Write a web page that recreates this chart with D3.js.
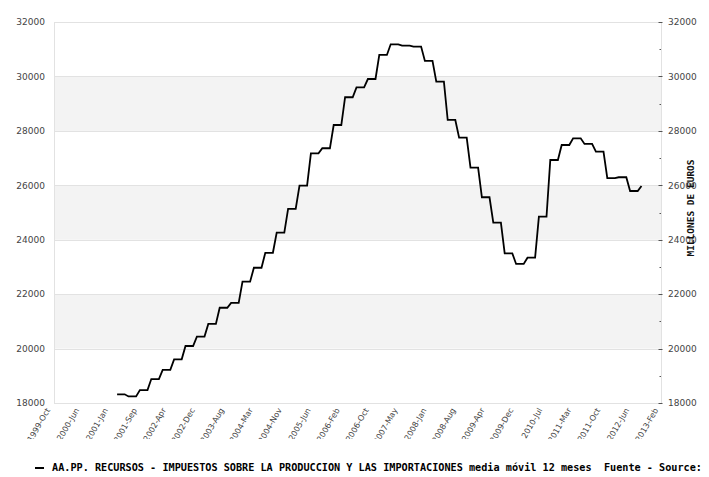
<!DOCTYPE html>
<html>
<head>
<meta charset="utf-8">
<script src="https://cdn.jsdelivr.net/npm/d3@7/dist/d3.min.js"></script>
<style>
  html, body { margin: 0; padding: 0; background: #fff; }
  svg { display: block; }
</style>
</head>
<body>
<svg id="chart" width="709" height="477"></svg>
<script>
// ---------------- DATA ----------------
const axisStart = "1999-10";   // first x-axis month
const axisEnd = "2013-02";     // last x-axis month
const tickLabels = ["1999-Oct","2000-Jun","2001-Jan","2001-Sep","2002-Apr","2002-Dec","2003-Aug",
  "2004-Mar","2004-Nov","2005-Jun","2006-Feb","2006-Oct","2007-May","2008-Jan","2008-Aug",
  "2009-Apr","2009-Dec","2010-Jul","2011-Mar","2011-Oct","2012-Jun","2013-Feb"];
const yTicks = [18000,20000,22000,24000,26000,28000,30000,32000];
const seriesStart = "2001-03"; // month of the first value
// monthly values (millones de euros), 12-month moving average
const values = [
  18320,18320,18320, 18240,18240,18240, 18475,18475,18475, 18880,18880,18880,
  19220,19220,19220, 19605,19605,19605, 20095,20095,20095, 20440,20440,20440,
  20905,20905,20905, 21500,21500,21500, 21680,21680,21680, 22460,22460,22460,
  22970,22970,22970, 23520,23520,23520, 24260,24260,24260, 25130,25130,25130,
  25985,25985,25985, 27175,27175,27175, 27360,27360,27360, 28215,28215,28215,
  29235,29235,29235, 29600,29600,29600, 29905,29905,29905, 30790,30790,30790,
  31180,31180,31180, 31130,31130,31130, 31095,31095,31095, 30570,30570,30570,
  29810,29810,29810, 28400,28400,28400, 27750,27750,27750, 26650,26650,26650,
  25560,25560,25560, 24625,24625,24625, 23500,23500,23500, 23110,23110,23110,
  23340,23340,23340, 24845,24845,24845, 26930,26930,26930, 27480,27480,27480,
  27725,27725,27725, 27520,27520,27520, 27235,27235,27235, 26260,26260,26260,
  26295,26295,26295, 25790,25790,25790, 25975
];
const seriesName = "AA.PP. RECURSOS - IMPUESTOS SOBRE LA PRODUCCION Y LAS IMPORTACIONES media móvil 12 meses\u00a0 Fuente - Source:";
const yTitle = "MILLONES DE EUROS";

// ---------------- CHART ----------------
const svg = d3.select("#chart");
const parse = d3.timeParse("%Y-%m");
const t0 = parse(axisStart), t1 = parse(axisEnd);
const nMonths = d3.timeMonth.count(t0, t1);
const sIdx = d3.timeMonth.count(t0, parse(seriesStart));

const frame = {left: 54.5, right: 661.5, top: 22, bottom: 403};
const x = d3.scaleLinear().domain([0, nMonths]).range([52.5, 660.5]);
const y = d3.scaleLinear().domain([18000, 32000]).range([frame.bottom, frame.top]);

// clip for x labels
svg.append("defs").append("clipPath").attr("id", "xclip")
  .append("rect").attr("x", 0).attr("y", 400).attr("width", 709).attr("height", 39);

// bands
const bandPairs = [[20000,22000],[24000,26000],[28000,30000]];
svg.append("g").selectAll("rect").data(bandPairs).join("rect")
  .attr("x", frame.left).attr("width", frame.right - frame.left)
  .attr("y", d => y(d[1])).attr("height", d => y(d[0]) - y(d[1]))
  .attr("fill", "#f3f3f3");

// gridlines
svg.append("g").selectAll("line").data(yTicks).join("line")
  .attr("x1", frame.left).attr("x2", frame.right)
  .attr("y1", d => Math.round(y(d)) + 0.5).attr("y2", d => Math.round(y(d)) + 0.5)
  .attr("stroke", "#e2e2e2").attr("stroke-width", 1);

// frame sides
svg.append("line").attr("x1", frame.left).attr("x2", frame.left)
  .attr("y1", frame.top).attr("y2", frame.bottom + 1).attr("stroke", "#e2e2e2");
svg.append("line").attr("x1", frame.right).attr("x2", frame.right)
  .attr("y1", frame.top).attr("y2", frame.bottom + 1).attr("stroke", "#e2e2e2");

// left axis labels
svg.append("g").selectAll("text").data(yTicks).join("text")
  .attr("x", 45).attr("y", d => y(d)).attr("dy", "0.36em")
  .attr("text-anchor", "end")
  .attr("font-family", "DejaVu Sans").attr("font-size", 9).attr("fill", "#444")
  .text(d => d);

// right axis: ticks and labels
const minorTicks = d3.range(19000, 32000, 2000);
svg.append("g").selectAll("line").data(yTicks).join("line")
  .attr("x1", frame.right - 3).attr("x2", frame.right + 1)
  .attr("y1", d => Math.round(y(d)) + 0.5).attr("y2", d => Math.round(y(d)) + 0.5)
  .attr("stroke", "#555");
svg.append("g").selectAll("line").data(minorTicks).join("line")
  .attr("x1", frame.right - 2).attr("x2", frame.right - 0.5)
  .attr("y1", d => Math.round(y(d)) + 0.5).attr("y2", d => Math.round(y(d)) + 0.5)
  .attr("stroke", "#555");
svg.append("g").selectAll("text").data(yTicks).join("text")
  .attr("x", 668).attr("y", d => y(d)).attr("dy", "0.36em")
  .attr("font-family", "DejaVu Sans").attr("font-size", 9).attr("fill", "#444")
  .text(d => d);

// right axis title
svg.append("text")
  .attr("transform", "translate(694,208) rotate(-90)")
  .attr("text-anchor", "middle")
  .attr("font-family", "DejaVu Sans Mono").attr("font-weight", "bold")
  .attr("font-size", 9.5).attr("fill", "#111")
  .attr("textLength", 97).attr("lengthAdjust", "spacingAndGlyphs")
  .text(yTitle);

// x labels (evenly spaced), clipped at the bottom
const nT = tickLabels.length - 1;
svg.append("g").attr("clip-path", "url(#xclip)")
  .selectAll("text").data(tickLabels).join("text")
  .attr("transform", (d, i) => `translate(${x(i * nMonths / nT) - 2},410) rotate(-60)`)
  .attr("text-anchor", "end")
  .attr("font-family", "DejaVu Sans").attr("font-size", 8).attr("fill", "#444")
  .text(d => d);

// line
const pts = values.map((v, i) => [sIdx + i, v]);
svg.append("path").datum(pts)
  .attr("fill", "none").attr("stroke", "#000").attr("stroke-width", 1.8)
  .attr("stroke-linejoin", "miter")
  .attr("d", d3.line().x(d => x(d[0])).y(d => y(d[1])));

// legend
svg.append("line").attr("x1", 35).attr("x2", 44).attr("y1", 468).attr("y2", 468)
  .attr("stroke", "#000").attr("stroke-width", 2);
svg.append("text").attr("x", 52).attr("y", 470.5)
  .attr("font-family", "DejaVu Sans Mono").attr("font-weight", "bold")
  .attr("font-size", 10).attr("fill", "#000")
  .attr("textLength", 650).attr("lengthAdjust", "spacingAndGlyphs")
  .text(seriesName);
</script>
</body>
</html>
